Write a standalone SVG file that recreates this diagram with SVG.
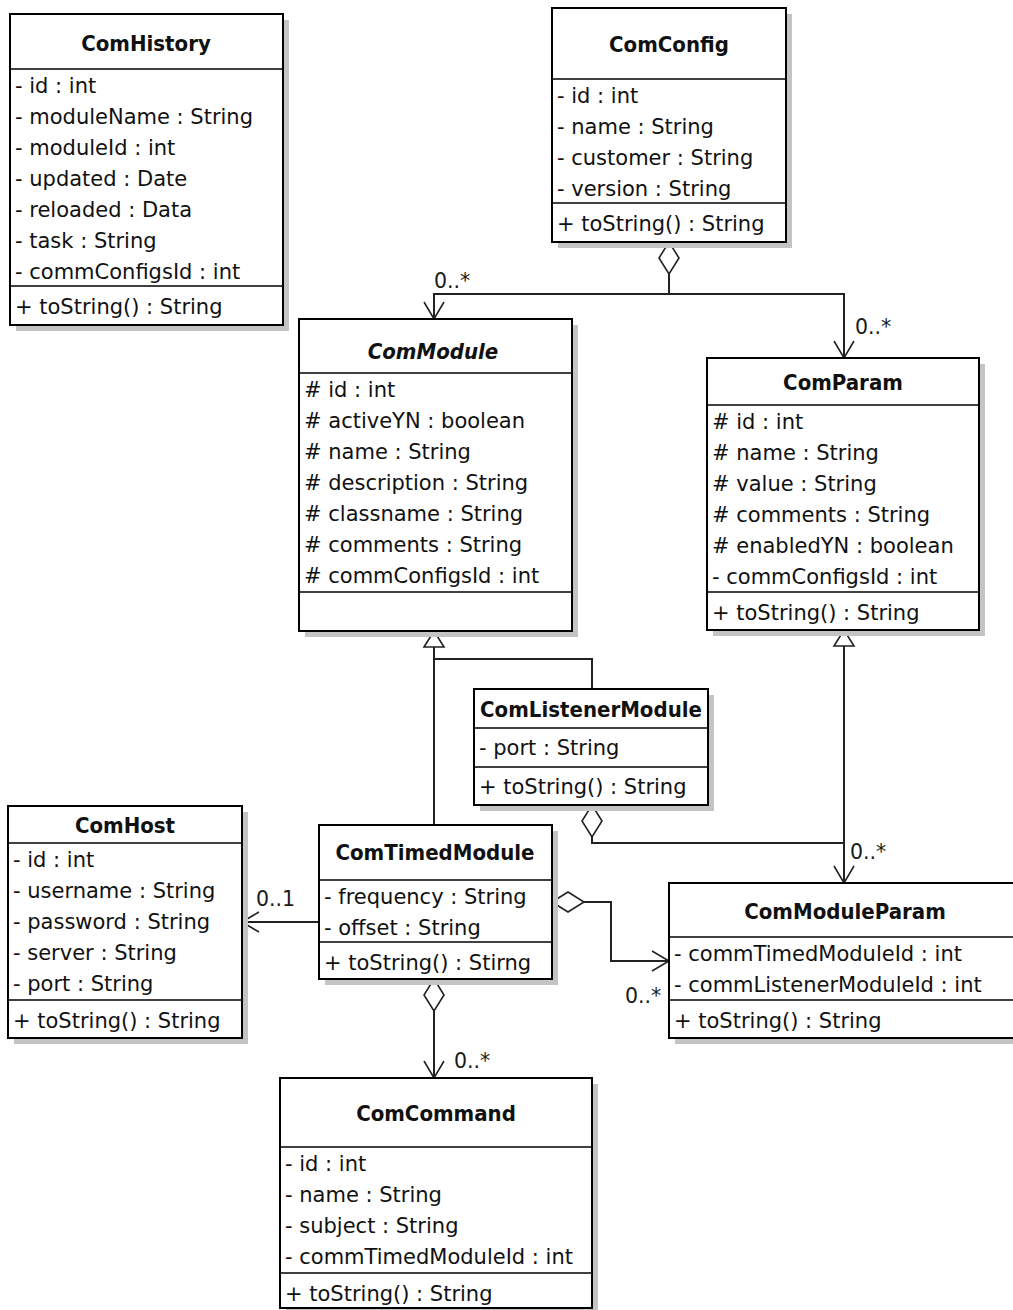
<svg xmlns="http://www.w3.org/2000/svg" width="1013" height="1310" viewBox="0 0 1013 1310">
  <style>
    .shadow { fill: #c4c4c4; }
    .box { fill: #ffffff; stroke: #000000; stroke-width: 2; }
    .sep { stroke: #000000; stroke-width: 1.6; }
    .title { font-family: "DejaVu Sans Condensed", "DejaVu Sans", sans-serif; font-stretch: condensed; font-weight: bold; font-size: 22px; fill: #111111; text-anchor: middle; }
    .italic { font-style: italic; }
    .attr { font-family: "DejaVu Sans", sans-serif; font-size: 21px; fill: #111111; }
    .mult { font-family: "DejaVu Sans", sans-serif; font-size: 20.5px; fill: #1a1a1a; }
    .link { fill: none; stroke: #222222; stroke-width: 2; }
  </style>
  <defs>
    <marker id="open-arrow" markerUnits="userSpaceOnUse" markerWidth="20" markerHeight="24" refX="17" refY="11" orient="auto" overflow="visible">
      <path d="M0,1 L17,11 L0,21" fill="none" stroke="#222222" stroke-width="1.6"/>
    </marker>
    <marker id="hollow-triangle" markerUnits="userSpaceOnUse" markerWidth="20" markerHeight="24" refX="16" refY="10" orient="auto" overflow="visible">
      <path d="M0,0 L16,10 L0,20 Z" fill="#ffffff" stroke="#222222" stroke-width="1.6"/>
    </marker>
    <marker id="hollow-diamond" markerUnits="userSpaceOnUse" markerWidth="34" markerHeight="24" refX="0" refY="10" orient="auto" overflow="visible">
      <path d="M0,10 L16,0 L32,10 L16,20 Z" fill="#ffffff" stroke="#222222" stroke-width="1.6"/>
    </marker>
  </defs>

  <!-- associations, aggregations and generalizations -->
  <g id="connectors">
    <!-- ComConfig aggregates ComModule and ComParam -->
    <path class="link" d="M669,242 V294 H434 V319" marker-start="url(#hollow-diamond)" marker-end="url(#open-arrow)"/>
    <path class="link" d="M669,294 H844 V358" marker-end="url(#open-arrow)"/>
    <!-- ComTimedModule and ComListenerModule extend ComModule -->
    <path class="link" d="M434,825 V631" marker-end="url(#hollow-triangle)"/>
    <path class="link" d="M592,689 V659 H434"/>
    <!-- ComModuleParam extends ComParam -->
    <path class="link" d="M844,883 V630" marker-end="url(#hollow-triangle)"/>
    <!-- ComListenerModule aggregates ComModuleParam -->
    <path class="link" d="M592,805 V843 H844 V883" marker-start="url(#hollow-diamond)" marker-end="url(#open-arrow)"/>
    <!-- ComTimedModule to ComHost -->
    <path class="link" d="M319,922 H242" marker-end="url(#open-arrow)"/>
    <!-- ComTimedModule aggregates ComModuleParam -->
    <path class="link" d="M552,902 H611 V961 H669" marker-start="url(#hollow-diamond)" marker-end="url(#open-arrow)"/>
    <!-- ComTimedModule aggregates ComCommand -->
    <path class="link" d="M434,979 V1078" marker-start="url(#hollow-diamond)" marker-end="url(#open-arrow)"/>

    <text class="mult" x="434" y="288">0..*</text>
    <text class="mult" x="855" y="334">0..*</text>
    <text class="mult" x="850" y="859">0..*</text>
    <text class="mult" x="256" y="906">0..1</text>
    <text class="mult" x="625" y="1003">0..*</text>
    <text class="mult" x="454" y="1068">0..*</text>
  </g>

  <g id="ComHistory">
    <rect class="shadow" x="16" y="20" width="273" height="311"/>
    <rect class="box" x="10" y="14" width="273" height="311"/>
    <line class="sep" x1="10" y1="69" x2="283" y2="69"/>
    <line class="sep" x1="10" y1="286" x2="283" y2="286"/>
    <text class="title" x="146" y="51">ComHistory</text>
    <text class="attr" x="15" y="93">- id : int</text>
    <text class="attr" x="15" y="124">- moduleName : String</text>
    <text class="attr" x="15" y="155">- moduleId : int</text>
    <text class="attr" x="15" y="186">- updated : Date</text>
    <text class="attr" x="15" y="217">- reloaded : Data</text>
    <text class="attr" x="15" y="248">- task : String</text>
    <text class="attr" x="15" y="279">- commConfigsId : int</text>
    <text class="attr" x="15" y="314">+ toString() : String</text>
  </g>

  <g id="ComConfig">
    <rect class="shadow" x="558" y="14" width="234" height="234"/>
    <rect class="box" x="552" y="8" width="234" height="234"/>
    <line class="sep" x1="552" y1="79" x2="786" y2="79"/>
    <line class="sep" x1="552" y1="203" x2="786" y2="203"/>
    <text class="title" x="669" y="52">ComConfig</text>
    <text class="attr" x="557" y="103">- id : int</text>
    <text class="attr" x="557" y="134">- name : String</text>
    <text class="attr" x="557" y="165">- customer : String</text>
    <text class="attr" x="557" y="196">- version : String</text>
    <text class="attr" x="557" y="231">+ toString() : String</text>
  </g>

  <g id="ComModule">
    <rect class="shadow" x="305" y="325" width="273" height="312"/>
    <rect class="box" x="299" y="319" width="273" height="312"/>
    <line class="sep" x1="299" y1="373" x2="572" y2="373"/>
    <line class="sep" x1="299" y1="592" x2="572" y2="592"/>
    <text class="title italic" x="433" y="359">ComModule</text>
    <text class="attr" x="304" y="397"># id : int</text>
    <text class="attr" x="304" y="428"># activeYN : boolean</text>
    <text class="attr" x="304" y="459"># name : String</text>
    <text class="attr" x="304" y="490"># description : String</text>
    <text class="attr" x="304" y="521"># classname : String</text>
    <text class="attr" x="304" y="552"># comments : String</text>
    <text class="attr" x="304" y="583"># commConfigsId : int</text>
  </g>

  <g id="ComParam">
    <rect class="shadow" x="713" y="364" width="272" height="272"/>
    <rect class="box" x="707" y="358" width="272" height="272"/>
    <line class="sep" x1="707" y1="405" x2="979" y2="405"/>
    <line class="sep" x1="707" y1="592" x2="979" y2="592"/>
    <text class="title" x="843" y="390">ComParam</text>
    <text class="attr" x="712" y="429"># id : int</text>
    <text class="attr" x="712" y="460"># name : String</text>
    <text class="attr" x="712" y="491"># value : String</text>
    <text class="attr" x="712" y="522"># comments : String</text>
    <text class="attr" x="712" y="553"># enabledYN : boolean</text>
    <text class="attr" x="712" y="584">- commConfigsId : int</text>
    <text class="attr" x="712" y="620">+ toString() : String</text>
  </g>

  <g id="ComListenerModule">
    <rect class="shadow" x="480" y="695" width="234" height="116"/>
    <rect class="box" x="474" y="689" width="234" height="116"/>
    <line class="sep" x1="474" y1="728" x2="708" y2="728"/>
    <line class="sep" x1="474" y1="767" x2="708" y2="767"/>
    <text class="title" x="591" y="717">ComListenerModule</text>
    <text class="attr" x="479" y="755">- port : String</text>
    <text class="attr" x="479" y="794">+ toString() : String</text>
  </g>

  <g id="ComHost">
    <rect class="shadow" x="14" y="812" width="234" height="232"/>
    <rect class="box" x="8" y="806" width="234" height="232"/>
    <line class="sep" x1="8" y1="843" x2="242" y2="843"/>
    <line class="sep" x1="8" y1="1000" x2="242" y2="1000"/>
    <text class="title" x="125" y="833">ComHost</text>
    <text class="attr" x="13" y="867">- id : int</text>
    <text class="attr" x="13" y="898">- username : String</text>
    <text class="attr" x="13" y="929">- password : String</text>
    <text class="attr" x="13" y="960">- server : String</text>
    <text class="attr" x="13" y="991">- port : String</text>
    <text class="attr" x="13" y="1028">+ toString() : String</text>
  </g>

  <g id="ComTimedModule">
    <rect class="shadow" x="325" y="831" width="233" height="154"/>
    <rect class="box" x="319" y="825" width="233" height="154"/>
    <line class="sep" x1="319" y1="880" x2="552" y2="880"/>
    <line class="sep" x1="319" y1="942" x2="552" y2="942"/>
    <text class="title" x="435" y="860">ComTimedModule</text>
    <text class="attr" x="324" y="904">- frequency : String</text>
    <text class="attr" x="324" y="935">- offset : String</text>
    <text class="attr" x="324" y="970">+ toString() : Stirng</text>
  </g>

  <g id="ComModuleParam">
    <rect class="shadow" x="675" y="889" width="350" height="155"/>
    <rect class="box" x="669" y="883" width="350" height="155"/>
    <line class="sep" x1="669" y1="937" x2="1019" y2="937"/>
    <line class="sep" x1="669" y1="1000" x2="1019" y2="1000"/>
    <text class="title" x="845" y="919">ComModuleParam</text>
    <text class="attr" x="674" y="961">- commTimedModuleId : int</text>
    <text class="attr" x="674" y="992">- commListenerModuleId : int</text>
    <text class="attr" x="674" y="1028">+ toString() : String</text>
  </g>

  <g id="ComCommand">
    <rect class="shadow" x="286" y="1084" width="312" height="230"/>
    <rect class="box" x="280" y="1078" width="312" height="230"/>
    <line class="sep" x1="280" y1="1147" x2="592" y2="1147"/>
    <line class="sep" x1="280" y1="1273" x2="592" y2="1273"/>
    <text class="title" x="436" y="1121">ComCommand</text>
    <text class="attr" x="285" y="1171">- id : int</text>
    <text class="attr" x="285" y="1202">- name : String</text>
    <text class="attr" x="285" y="1233">- subject : String</text>
    <text class="attr" x="285" y="1264">- commTimedModuleId : int</text>
    <text class="attr" x="285" y="1301">+ toString() : String</text>
  </g>
</svg>
